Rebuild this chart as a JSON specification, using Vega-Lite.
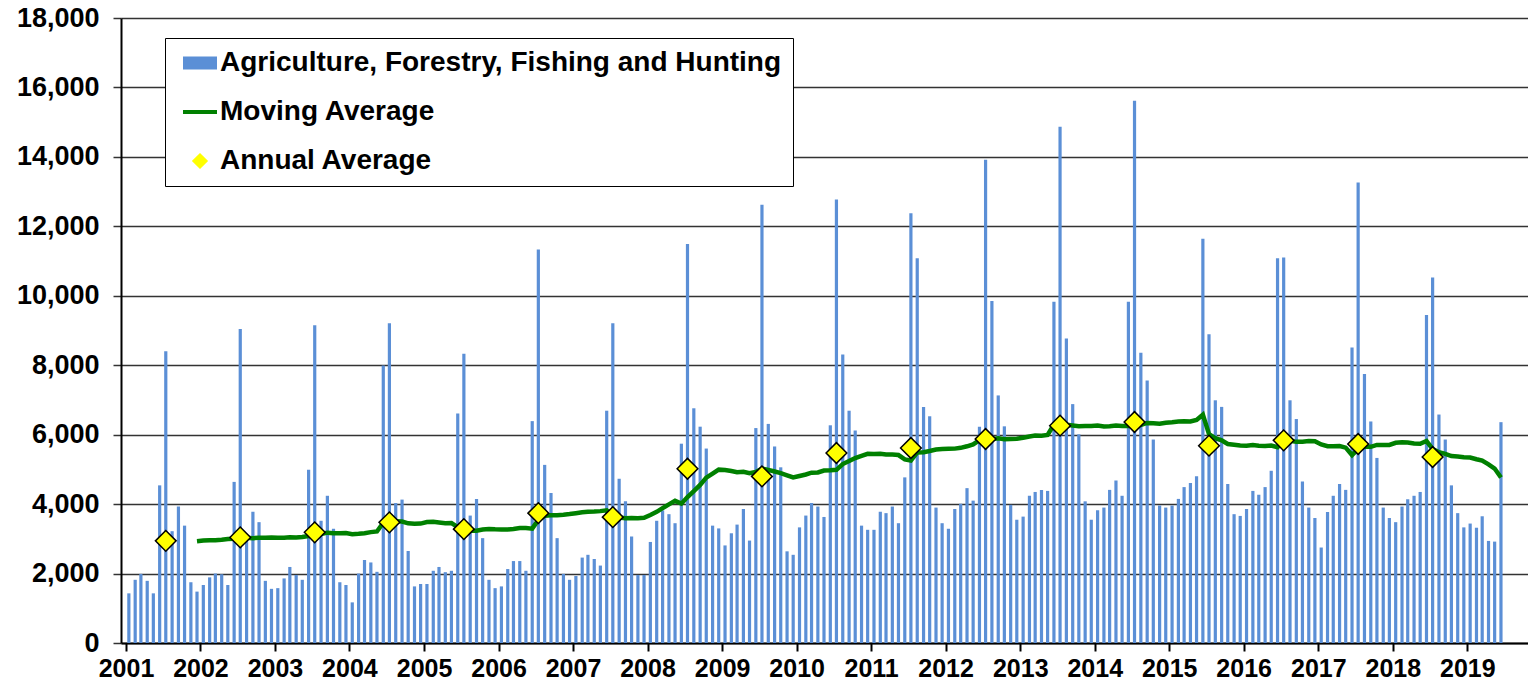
{
  "$schema": "https://vega.github.io/schema/vega-lite/v6.json",
  "width": 1407,
  "height": 625,
  "autosize": {"type": "none"},
  "padding": {"left": 121, "top": 18, "right": 0, "bottom": 45},
  "background": "white",
  "config": {"view": {"stroke": null}, "font": "Liberation Sans"},
  "datasets": {
    "monthly": [
      {"date":"2001-01-15","value":1430},{"date":"2001-02-15","value":1820},{"date":"2001-03-15","value":1990},{"date":"2001-04-15","value":1790},{"date":"2001-05-15","value":1430},{"date":"2001-06-15","value":4540},{"date":"2001-07-15","value":8400},{"date":"2001-08-15","value":3220},{"date":"2001-09-15","value":3930},{"date":"2001-10-15","value":3380},{"date":"2001-11-15","value":1750},{"date":"2001-12-15","value":1480},
      {"date":"2002-01-15","value":1670},{"date":"2002-02-15","value":1890},{"date":"2002-03-15","value":2000},{"date":"2002-04-15","value":1980},{"date":"2002-05-15","value":1670},{"date":"2002-06-15","value":4640},{"date":"2002-07-15","value":9040},{"date":"2002-08-15","value":2950},{"date":"2002-09-15","value":3780},{"date":"2002-10-15","value":3480},{"date":"2002-11-15","value":1790},{"date":"2002-12-15","value":1560},
      {"date":"2003-01-15","value":1580},{"date":"2003-02-15","value":1860},{"date":"2003-03-15","value":2190},{"date":"2003-04-15","value":1960},{"date":"2003-05-15","value":1820},{"date":"2003-06-15","value":4990},{"date":"2003-07-15","value":9150},{"date":"2003-08-15","value":3520},{"date":"2003-09-15","value":4240},{"date":"2003-10-15","value":3290},{"date":"2003-11-15","value":1750},{"date":"2003-12-15","value":1670},
      {"date":"2004-01-15","value":1170},{"date":"2004-02-15","value":2000},{"date":"2004-03-15","value":2390},{"date":"2004-04-15","value":2320},{"date":"2004-05-15","value":2050},{"date":"2004-06-15","value":7990},{"date":"2004-07-15","value":9210},{"date":"2004-08-15","value":4030},{"date":"2004-09-15","value":4130},{"date":"2004-10-15","value":2650},{"date":"2004-11-15","value":1630},{"date":"2004-12-15","value":1700},
      {"date":"2005-01-15","value":1700},{"date":"2005-02-15","value":2080},{"date":"2005-03-15","value":2190},{"date":"2005-04-15","value":2040},{"date":"2005-05-15","value":2080},{"date":"2005-06-15","value":6610},{"date":"2005-07-15","value":8330},{"date":"2005-08-15","value":3670},{"date":"2005-09-15","value":4150},{"date":"2005-10-15","value":3020},{"date":"2005-11-15","value":1820},{"date":"2005-12-15","value":1580},
      {"date":"2006-01-15","value":1630},{"date":"2006-02-15","value":2130},{"date":"2006-03-15","value":2360},{"date":"2006-04-15","value":2360},{"date":"2006-05-15","value":2080},{"date":"2006-06-15","value":6390},{"date":"2006-07-15","value":11330},{"date":"2006-08-15","value":5130},{"date":"2006-09-15","value":4320},{"date":"2006-10-15","value":3020},{"date":"2006-11-15","value":1990},{"date":"2006-12-15","value":1820},
      {"date":"2007-01-15","value":1930},{"date":"2007-02-15","value":2460},{"date":"2007-03-15","value":2540},{"date":"2007-04-15","value":2420},{"date":"2007-05-15","value":2230},{"date":"2007-06-15","value":6690},{"date":"2007-07-15","value":9210},{"date":"2007-08-15","value":4730},{"date":"2007-09-15","value":4080},{"date":"2007-10-15","value":3070},{"date":"2007-11-15","value":1960},{"date":"2007-12-15","value":1960},
      {"date":"2008-01-15","value":2910},{"date":"2008-02-15","value":3520},{"date":"2008-03-15","value":3820},{"date":"2008-04-15","value":3710},{"date":"2008-05-15","value":3450},{"date":"2008-06-15","value":5740},{"date":"2008-07-15","value":11490},{"date":"2008-08-15","value":6760},{"date":"2008-09-15","value":6230},{"date":"2008-10-15","value":5600},{"date":"2008-11-15","value":3380},{"date":"2008-12-15","value":3300},
      {"date":"2009-01-15","value":2810},{"date":"2009-02-15","value":3160},{"date":"2009-03-15","value":3410},{"date":"2009-04-15","value":3860},{"date":"2009-05-15","value":2950},{"date":"2009-06-15","value":6190},{"date":"2009-07-15","value":12620},{"date":"2009-08-15","value":6310},{"date":"2009-09-15","value":5660},{"date":"2009-10-15","value":5060},{"date":"2009-11-15","value":2640},{"date":"2009-12-15","value":2540},
      {"date":"2010-01-15","value":3330},{"date":"2010-02-15","value":3670},{"date":"2010-03-15","value":4030},{"date":"2010-04-15","value":3930},{"date":"2010-05-15","value":3630},{"date":"2010-06-15","value":6270},{"date":"2010-07-15","value":12770},{"date":"2010-08-15","value":8310},{"date":"2010-09-15","value":6690},{"date":"2010-10-15","value":6120},{"date":"2010-11-15","value":3380},{"date":"2010-12-15","value":3260},
      {"date":"2011-01-15","value":3260},{"date":"2011-02-15","value":3780},{"date":"2011-03-15","value":3740},{"date":"2011-04-15","value":3930},{"date":"2011-05-15","value":3450},{"date":"2011-06-15","value":4770},{"date":"2011-07-15","value":12380},{"date":"2011-08-15","value":11080},{"date":"2011-09-15","value":6800},{"date":"2011-10-15","value":6530},{"date":"2011-11-15","value":3900},{"date":"2011-12-15","value":3450},
      {"date":"2012-01-15","value":3290},{"date":"2012-02-15","value":3860},{"date":"2012-03-15","value":4010},{"date":"2012-04-15","value":4460},{"date":"2012-05-15","value":4100},{"date":"2012-06-15","value":6230},{"date":"2012-07-15","value":13920},{"date":"2012-08-15","value":9850},{"date":"2012-09-15","value":7130},{"date":"2012-10-15","value":6240},{"date":"2012-11-15","value":3980},{"date":"2012-12-15","value":3550},
      {"date":"2013-01-15","value":3640},{"date":"2013-02-15","value":4240},{"date":"2013-03-15","value":4350},{"date":"2013-04-15","value":4410},{"date":"2013-05-15","value":4380},{"date":"2013-06-15","value":9830},{"date":"2013-07-15","value":14870},{"date":"2013-08-15","value":8770},{"date":"2013-09-15","value":6880},{"date":"2013-10-15","value":6010},{"date":"2013-11-15","value":4080},{"date":"2013-12-15","value":3550},
      {"date":"2014-01-15","value":3820},{"date":"2014-02-15","value":3900},{"date":"2014-03-15","value":4410},{"date":"2014-04-15","value":4680},{"date":"2014-05-15","value":4240},{"date":"2014-06-15","value":9830},{"date":"2014-07-15","value":15620},{"date":"2014-08-15","value":8360},{"date":"2014-09-15","value":7560},{"date":"2014-10-15","value":5860},{"date":"2014-11-15","value":3960},{"date":"2014-12-15","value":3900},
      {"date":"2015-01-15","value":3960},{"date":"2015-02-15","value":4150},{"date":"2015-03-15","value":4490},{"date":"2015-04-15","value":4610},{"date":"2015-05-15","value":4800},{"date":"2015-06-15","value":11640},{"date":"2015-07-15","value":8890},{"date":"2015-08-15","value":6990},{"date":"2015-09-15","value":6800},{"date":"2015-10-15","value":4580},{"date":"2015-11-15","value":3710},{"date":"2015-12-15","value":3660},
      {"date":"2016-01-15","value":3860},{"date":"2016-02-15","value":4380},{"date":"2016-03-15","value":4270},{"date":"2016-04-15","value":4490},{"date":"2016-05-15","value":4960},{"date":"2016-06-15","value":11080},{"date":"2016-07-15","value":11100},{"date":"2016-08-15","value":6990},{"date":"2016-09-15","value":6450},{"date":"2016-10-15","value":4650},{"date":"2016-11-15","value":3900},{"date":"2016-12-15","value":3600},
      {"date":"2017-01-15","value":2750},{"date":"2017-02-15","value":3770},{"date":"2017-03-15","value":4240},{"date":"2017-04-15","value":4580},{"date":"2017-05-15","value":4410},{"date":"2017-06-15","value":8510},{"date":"2017-07-15","value":13260},{"date":"2017-08-15","value":7750},{"date":"2017-09-15","value":6380},{"date":"2017-10-15","value":5330},{"date":"2017-11-15","value":3900},{"date":"2017-12-15","value":3600},
      {"date":"2018-01-15","value":3480},{"date":"2018-02-15","value":3930},{"date":"2018-03-15","value":4140},{"date":"2018-04-15","value":4240},{"date":"2018-05-15","value":4350},{"date":"2018-06-15","value":9450},{"date":"2018-07-15","value":10530},{"date":"2018-08-15","value":6580},{"date":"2018-09-15","value":5860},{"date":"2018-10-15","value":4540},{"date":"2018-11-15","value":3740},{"date":"2018-12-15","value":3330},
      {"date":"2019-01-15","value":3440},{"date":"2019-02-15","value":3320},{"date":"2019-03-15","value":3650},{"date":"2019-04-15","value":2940},{"date":"2019-05-15","value":2920},{"date":"2019-06-15","value":6360}
    ],
    "movingAverage": [
      {"date":"2001-12-15","value":2930},
      {"date":"2002-01-15","value":2950},{"date":"2002-02-15","value":2956},{"date":"2002-03-15","value":2957},{"date":"2002-04-15","value":2973},{"date":"2002-05-15","value":2993},{"date":"2002-06-15","value":3001},{"date":"2002-07-15","value":3054},{"date":"2002-08-15","value":3032},{"date":"2002-09-15","value":3019},{"date":"2002-10-15","value":3028},{"date":"2002-11-15","value":3031},{"date":"2002-12-15","value":3038},
      {"date":"2003-01-15","value":3030},{"date":"2003-02-15","value":3028},{"date":"2003-03-15","value":3043},{"date":"2003-04-15","value":3042},{"date":"2003-05-15","value":3054},{"date":"2003-06-15","value":3083},{"date":"2003-07-15","value":3093},{"date":"2003-08-15","value":3140},{"date":"2003-09-15","value":3178},{"date":"2003-10-15","value":3163},{"date":"2003-11-15","value":3159},{"date":"2003-12-15","value":3168},
      {"date":"2004-01-15","value":3134},{"date":"2004-02-15","value":3146},{"date":"2004-03-15","value":3163},{"date":"2004-04-15","value":3193},{"date":"2004-05-15","value":3212},{"date":"2004-06-15","value":3462},{"date":"2004-07-15","value":3467},{"date":"2004-08-15","value":3509},{"date":"2004-09-15","value":3500},{"date":"2004-10-15","value":3447},{"date":"2004-11-15","value":3437},{"date":"2004-12-15","value":3439},
      {"date":"2005-01-15","value":3483},{"date":"2005-02-15","value":3490},{"date":"2005-03-15","value":3473},{"date":"2005-04-15","value":3450},{"date":"2005-05-15","value":3453},{"date":"2005-06-15","value":3338},{"date":"2005-07-15","value":3264},{"date":"2005-08-15","value":3234},{"date":"2005-09-15","value":3236},{"date":"2005-10-15","value":3267},{"date":"2005-11-15","value":3283},{"date":"2005-12-15","value":3273},
      {"date":"2006-01-15","value":3267},{"date":"2006-02-15","value":3271},{"date":"2006-03-15","value":3285},{"date":"2006-04-15","value":3312},{"date":"2006-05-15","value":3312},{"date":"2006-06-15","value":3293},{"date":"2006-07-15","value":3543},{"date":"2006-08-15","value":3665},{"date":"2006-09-15","value":3679},{"date":"2006-10-15","value":3679},{"date":"2006-11-15","value":3693},{"date":"2006-12-15","value":3713},
      {"date":"2007-01-15","value":3738},{"date":"2007-02-15","value":3766},{"date":"2007-03-15","value":3781},{"date":"2007-04-15","value":3786},{"date":"2007-05-15","value":3798},{"date":"2007-06-15","value":3823},{"date":"2007-07-15","value":3647},{"date":"2007-08-15","value":3613},{"date":"2007-09-15","value":3593},{"date":"2007-10-15","value":3598},{"date":"2007-11-15","value":3595},{"date":"2007-12-15","value":3607},
      {"date":"2008-01-15","value":3688},{"date":"2008-02-15","value":3777},{"date":"2008-03-15","value":3883},{"date":"2008-04-15","value":3991},{"date":"2008-05-15","value":4093},{"date":"2008-06-15","value":4013},{"date":"2008-07-15","value":4203},{"date":"2008-08-15","value":4373},{"date":"2008-09-15","value":4552},{"date":"2008-10-15","value":4763},{"date":"2008-11-15","value":4881},{"date":"2008-12-15","value":4993},
      {"date":"2009-01-15","value":4984},{"date":"2009-02-15","value":4954},{"date":"2009-03-15","value":4920},{"date":"2009-04-15","value":4933},{"date":"2009-05-15","value":4891},{"date":"2009-06-15","value":4928},{"date":"2009-07-15","value":5023},{"date":"2009-08-15","value":4985},{"date":"2009-09-15","value":4938},{"date":"2009-10-15","value":4893},{"date":"2009-11-15","value":4831},{"date":"2009-12-15","value":4768},
      {"date":"2010-01-15","value":4811},{"date":"2010-02-15","value":4853},{"date":"2010-03-15","value":4905},{"date":"2010-04-15","value":4911},{"date":"2010-05-15","value":4968},{"date":"2010-06-15","value":4974},{"date":"2010-07-15","value":4987},{"date":"2010-08-15","value":5153},{"date":"2010-09-15","value":5239},{"date":"2010-10-15","value":5328},{"date":"2010-11-15","value":5389},{"date":"2010-12-15","value":5449},
      {"date":"2011-01-15","value":5443},{"date":"2011-02-15","value":5453},{"date":"2011-03-15","value":5428},{"date":"2011-04-15","value":5428},{"date":"2011-05-15","value":5413},{"date":"2011-06-15","value":5288},{"date":"2011-07-15","value":5256},{"date":"2011-08-15","value":5487},{"date":"2011-09-15","value":5496},{"date":"2011-10-15","value":5530},{"date":"2011-11-15","value":5573},{"date":"2011-12-15","value":5589},
      {"date":"2012-01-15","value":5592},{"date":"2012-02-15","value":5598},{"date":"2012-03-15","value":5621},{"date":"2012-04-15","value":5665},{"date":"2012-05-15","value":5719},{"date":"2012-06-15","value":5841},{"date":"2012-07-15","value":5969},{"date":"2012-08-15","value":5867},{"date":"2012-09-15","value":5894},{"date":"2012-10-15","value":5870},{"date":"2012-11-15","value":5877},{"date":"2012-12-15","value":5885},
      {"date":"2013-01-15","value":5914},{"date":"2013-02-15","value":5946},{"date":"2013-03-15","value":5974},{"date":"2013-04-15","value":5970},{"date":"2013-05-15","value":5993},{"date":"2013-06-15","value":6293},{"date":"2013-07-15","value":6373},{"date":"2013-08-15","value":6283},{"date":"2013-09-15","value":6262},{"date":"2013-10-15","value":6243},{"date":"2013-11-15","value":6251},{"date":"2013-12-15","value":6251},
      {"date":"2014-01-15","value":6266},{"date":"2014-02-15","value":6238},{"date":"2014-03-15","value":6243},{"date":"2014-04-15","value":6265},{"date":"2014-05-15","value":6253},{"date":"2014-06-15","value":6253},{"date":"2014-07-15","value":6316},{"date":"2014-08-15","value":6282},{"date":"2014-09-15","value":6338},{"date":"2014-10-15","value":6326},{"date":"2014-11-15","value":6316},{"date":"2014-12-15","value":6345},
      {"date":"2015-01-15","value":6357},{"date":"2015-02-15","value":6378},{"date":"2015-03-15","value":6384},{"date":"2015-04-15","value":6378},{"date":"2015-05-15","value":6425},{"date":"2015-06-15","value":6576},{"date":"2015-07-15","value":6015},{"date":"2015-08-15","value":5901},{"date":"2015-09-15","value":5837},{"date":"2015-10-15","value":5730},{"date":"2015-11-15","value":5709},{"date":"2015-12-15","value":5689},
      {"date":"2016-01-15","value":5681},{"date":"2016-02-15","value":5700},{"date":"2016-03-15","value":5682},{"date":"2016-04-15","value":5672},{"date":"2016-05-15","value":5685},{"date":"2016-06-15","value":5638},{"date":"2016-07-15","value":5823},{"date":"2016-08-15","value":5823},{"date":"2016-09-15","value":5793},{"date":"2016-10-15","value":5799},{"date":"2016-11-15","value":5815},{"date":"2016-12-15","value":5810},
      {"date":"2017-01-15","value":5718},{"date":"2017-02-15","value":5667},{"date":"2017-03-15","value":5664},{"date":"2017-04-15","value":5672},{"date":"2017-05-15","value":5626},{"date":"2017-06-15","value":5412},{"date":"2017-07-15","value":5592},{"date":"2017-08-15","value":5655},{"date":"2017-09-15","value":5649},{"date":"2017-10-15","value":5706},{"date":"2017-11-15","value":5706},{"date":"2017-12-15","value":5706},
      {"date":"2018-01-15","value":5767},{"date":"2018-02-15","value":5780},{"date":"2018-03-15","value":5772},{"date":"2018-04-15","value":5743},{"date":"2018-05-15","value":5738},{"date":"2018-06-15","value":5817},{"date":"2018-07-15","value":5589},{"date":"2018-08-15","value":5492},{"date":"2018-09-15","value":5448},{"date":"2018-10-15","value":5383},{"date":"2018-11-15","value":5369},{"date":"2018-12-15","value":5347},
      {"date":"2019-01-15","value":5343},{"date":"2019-02-15","value":5293},{"date":"2019-03-15","value":5252},{"date":"2019-04-15","value":5143},{"date":"2019-05-15","value":5024},{"date":"2019-06-15","value":4767}
    ],
    "annual": [
      {"date":"2001-07-15","value":2942},{"date":"2002-07-15","value":3040},{"date":"2003-07-15","value":3188},{"date":"2004-07-15","value":3476},{"date":"2005-07-15","value":3279},{"date":"2006-07-15","value":3740},{"date":"2007-07-15","value":3625},{"date":"2008-07-15","value":5019},{"date":"2009-07-15","value":4798},{"date":"2010-07-15","value":5471},{"date":"2011-07-15","value":5615},{"date":"2012-07-15","value":5875},{"date":"2013-07-15","value":6259},{"date":"2014-07-15","value":6365},{"date":"2015-07-15","value":5683},{"date":"2016-07-15","value":5836},{"date":"2017-07-15","value":5731},{"date":"2018-07-15","value":5356}
    ]
  },
  "encoding": {
    "x": {
      "field": "date", "type": "temporal", "title": null,
      "scale": {"type": "utc", "domain": [{"year": 2001, "month": 1, "date": 1, "utc": true}, {"year": 2019, "month": 10, "date": 1, "utc": true}]},
      "axis": {"format": "%Y", "tickCount": {"interval": "year", "step": 1}, "labelFontSize": 25, "labelFontWeight": "bold", "labelColor": "black", "labelFont": "Liberation Sans", "labelFlush": false, "labelOverlap": false, "labelPadding": 5, "tickColor": "black", "tickSize": 8, "tickWidth": 2, "domainColor": "black", "domainWidth": 2, "grid": false}
    },
    "y": {
      "field": "value", "type": "quantitative", "title": null,
      "scale": {"domain": [0, 18000], "nice": false, "zero": true},
      "axis": {"values": [0, 2000, 4000, 6000, 8000, 10000, 12000, 14000, 16000, 18000], "format": ",.0f", "labelFontSize": 27, "labelFontWeight": "bold", "labelColor": "black", "labelFont": "Liberation Sans", "labelPadding": 14, "tickColor": "#333333", "tickSize": 8, "tickWidth": 1.5, "domainColor": "black", "domainWidth": 2, "grid": true, "gridColor": "#333333", "gridWidth": 1.5}
    }
  },
  "layer": [
    {
      "data": {"name": "monthly"},
      "mark": {"type": "bar", "size": 3.2},
      "encoding": {
        "color": {
          "datum": "Agriculture, Forestry, Fishing and Hunting",
          "type": "nominal",
          "scale": {"domain": ["Agriculture, Forestry, Fishing and Hunting", "Moving Average", "Annual Average"], "range": ["#5b8fd6", "#008000", "#ffff00"]},
          "legend": {
            "orient": "none", "legendX": 44, "legendY": 20, "title": null, "direction": "vertical",
            "fillColor": "white", "strokeColor": "black", "padding": 11,
            "labelFontSize": 28, "labelFontWeight": "bold", "labelColor": "black", "labelFont": "Liberation Sans", "labelLimit": 0,
            "symbolSize": 1156, "rowPadding": 21, "labelOffset": 6, "symbolOffset": 10,
            "encode": {
              "symbols": {
                "update": {
                  "shape": {"signal": "datum.value === 'Moving Average' ? 'stroke' : datum.value === 'Annual Average' ? 'diamond' : 'M-1,-0.38H1V0.38H-1Z'"},
                  "size": {"signal": "datum.value === 'Annual Average' ? 210 : 1156"},
                  "strokeWidth": {"signal": "datum.value === 'Moving Average' ? 4 : datum.value === 'Annual Average' ? 1.2 : 0"},
                  "stroke": {"signal": "datum.value === 'Moving Average' ? '#008000' : 'black'"},
                  "fill": {"signal": "datum.value === 'Moving Average' ? 'transparent' : datum.value === 'Annual Average' ? '#ffff00' : '#5b8fd6'"},
                  "opacity": {"value": 1},
                  "fillOpacity": {"value": 1}
                }
              }
            }
          }
        }
      }
    },
    {
      "data": {"name": "movingAverage"},
      "mark": {"type": "line", "strokeWidth": 4.5},
      "encoding": {"color": {"datum": "Moving Average", "type": "nominal"}}
    },
    {
      "data": {"name": "annual"},
      "mark": {"type": "point", "shape": "diamond", "filled": true, "size": 430, "stroke": "black", "strokeWidth": 1.5, "opacity": 1},
      "encoding": {"color": {"datum": "Annual Average", "type": "nominal"}}
    }
  ]
}
